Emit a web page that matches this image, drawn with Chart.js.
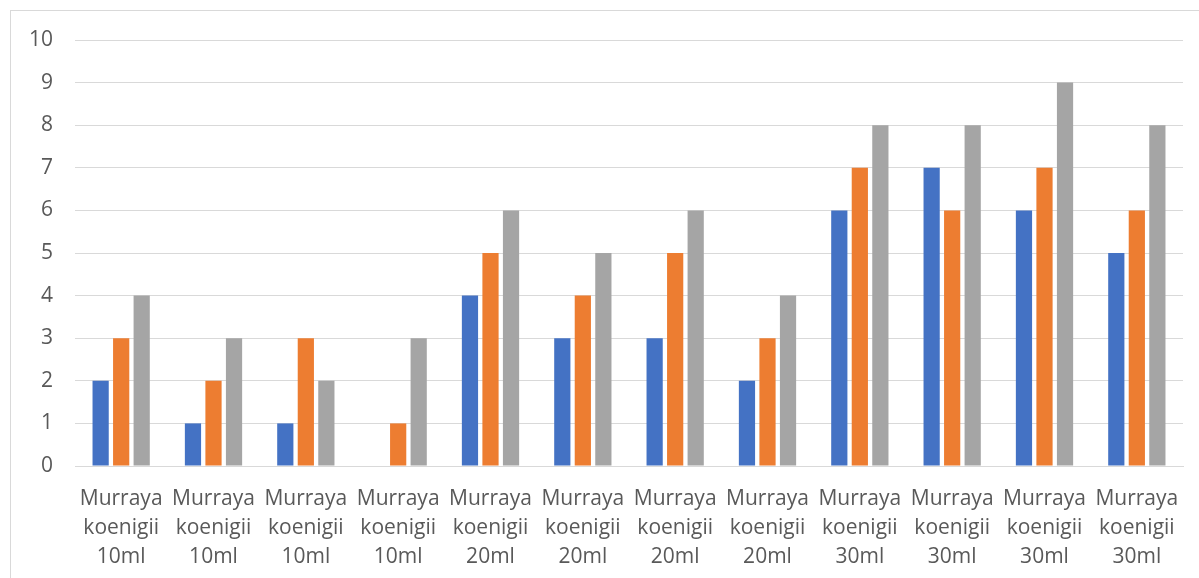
<!DOCTYPE html>
<html>
<head>
<meta charset="utf-8">
<script src="https://cdn.jsdelivr.net/npm/chart.js@4/dist/chart.umd.min.js"></script>
<style>
  html, body { margin: 0; padding: 0; background: #ffffff; overflow: hidden; }
  #wrap { position: relative; width: 1199px; height: 578px; }
  #frame { position: absolute; left: 10px; top: 10px; width: 1220px; height: 620px;
           border: 1px solid #d9d9d9; box-sizing: border-box; pointer-events: none; }
  canvas { position: absolute; left: 0; top: 0; }
</style>
</head>
<body>
<div id="wrap">
  <canvas id="c" width="1199" height="578"></canvas>
  <div id="frame"></div>
</div>
<script>
// Category labels (three lines each)
const categories = [
  ["Murraya", "koenigii", "10ml"], ["Murraya", "koenigii", "10ml"],
  ["Murraya", "koenigii", "10ml"], ["Murraya", "koenigii", "10ml"],
  ["Murraya", "koenigii", "20ml"], ["Murraya", "koenigii", "20ml"],
  ["Murraya", "koenigii", "20ml"], ["Murraya", "koenigii", "20ml"],
  ["Murraya", "koenigii", "30ml"], ["Murraya", "koenigii", "30ml"],
  ["Murraya", "koenigii", "30ml"], ["Murraya", "koenigii", "30ml"]
];

// Series values
const series1 = [2, 1, 1, 0, 4, 3, 3, 2, 6, 7, 6, 5];
const series2 = [3, 2, 3, 1, 5, 4, 5, 3, 7, 6, 7, 6];
const series3 = [4, 3, 2, 3, 6, 5, 6, 4, 8, 8, 9, 8];

// Value axis range
const yMin = 0;
const yMax = 10;
const yStep = 1;

const textColor = "#595959";
const gridColor = "#d9d9d9";
const fontFamily = "'Open Sans', 'Liberation Sans', sans-serif";

const bar = (label, data, color) => ({
  label, data,
  backgroundColor: color,
  borderWidth: 0,
  categoryPercentage: 0.667,
  barPercentage: 0.79
});

new Chart(document.getElementById("c"), {
  type: "bar",
  data: {
    labels: categories,
    datasets: [
      bar("Series 1", series1, "#4472c4"),
      bar("Series 2", series2, "#ed7d31"),
      bar("Series 3", series3, "#a5a5a5")
    ]
  },
  options: {
    responsive: false,
    animation: false,
    devicePixelRatio: 1,
    layout: { padding: { left: 0, right: 16, top: 40, bottom: 0 } },
    plugins: { legend: { display: false }, tooltip: { enabled: false } },
    scales: {
      x: {
        grid: { display: false, drawTicks: false },
        border: { display: true, color: gridColor, width: 1 },
        ticks: {
          color: textColor,
          padding: 18,
          maxRotation: 0,
          autoSkip: false,
          font: { family: fontFamily, size: 21, lineHeight: 1.4 }
        },
        afterFit: (s) => { s.height = 112; }
      },
      y: {
        min: yMin, max: yMax,
        grid: { color: gridColor, lineWidth: 1, drawTicks: false },
        border: { display: false },
        ticks: {
          stepSize: yStep,
          color: textColor,
          padding: 22,
          font: { family: fontFamily, size: 21 }
        },
        afterFit: (s) => { s.width = 75; }
      }
    }
  }
});
</script>
</body>
</html>
